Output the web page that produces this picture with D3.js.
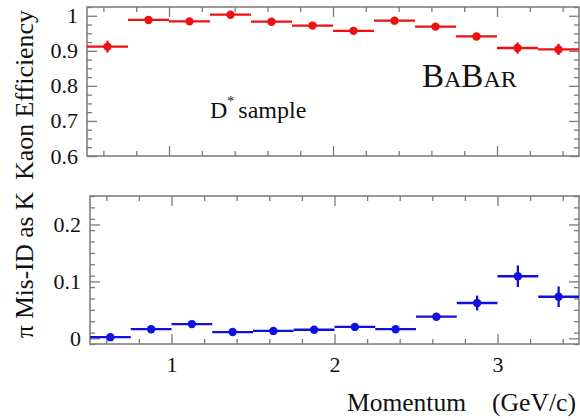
<!DOCTYPE html>
<html>
<head>
<meta charset="utf-8">
<script src="https://cdn.jsdelivr.net/npm/d3@7"></script>
<style>
  html, body { margin: 0; padding: 0; background: #fff; }
  svg { display: block; }
</style>
</head>
<body>
<svg id="chart" width="580" height="420"></svg>
<script>
// ---- data (momentum bins in GeV/c) ----
const binLow  = [0.50, 0.75, 1.00, 1.25, 1.50, 1.75, 2.00, 2.25, 2.50, 2.75, 3.00, 3.25];
const binHigh = [0.75, 1.00, 1.25, 1.50, 1.75, 2.00, 2.25, 2.50, 2.75, 3.00, 3.25, 3.50];
const kaonEff = [0.912, 0.988, 0.984, 1.003, 0.983, 0.972, 0.957, 0.986, 0.969, 0.941, 0.908, 0.904];
const kaonErr = [0.017, 0.005, 0.005, 0.005, 0.005, 0.005, 0.005, 0.005, 0.005, 0.005, 0.016, 0.016];
const pionMisID = [0.002, 0.016, 0.025, 0.011, 0.013, 0.015, 0.020, 0.016, 0.038, 0.062, 0.109, 0.073];
const pionErr   = [0.003, 0.003, 0.003, 0.003, 0.003, 0.003, 0.003, 0.003, 0.005, 0.013, 0.019, 0.018];
const momentumTicks = [1, 2, 3];
const momentumTickLabels = ["1", "2", "3"];
const kaonTicks = [0.6, 0.7, 0.8, 0.9, 1.0];
const kaonTickLabels = ["0.6", "0.7", "0.8", "0.9", "1"];
const misTicks = [0, 0.1, 0.2];
const misTickLabels = ["0", "0.1", "0.2"];

const svg = d3.select("#chart");
const frameColor = "#7a7a7a";
const FAM = "'Liberation Serif','Times New Roman',Tinos,serif";

function panel(cfg) {
  const x = d3.scaleLinear().domain([0.5, 3.5]).range([cfg.left, cfg.right]);
  const y = d3.scaleLinear().domain(cfg.yDomain).range([cfg.bottom, cfg.top]);
  const g = svg.append("g");
  const xMinor = d3.range(0.6, 3.45, 0.2).map(v => +v.toFixed(2)).filter(v => Math.abs(v - Math.round(v)) > 1e-6);
  const yMinor = d3.range(cfg.yDomain[0], cfg.yDomain[1] + 1e-9, cfg.minorStep)
      .map(v => +v.toFixed(4))
      .filter(v => !cfg.ticks.some(t => Math.abs(t - v) < 1e-6) && v >= cfg.yDomain[0] - 1e-9 && v <= cfg.yDomain[1]);

  function addAxis(axis, transform, labels) {
    const a = g.append("g").attr("transform", transform).call(axis);
    a.select(".domain").remove();
    a.selectAll(".tick line").attr("stroke", frameColor).attr("stroke-width", 1.3);
    if (!labels) a.selectAll(".tick text").remove();
    else a.selectAll(".tick text").attr("style", `font-family:${FAM};font-size:22px;fill:#111`);
    return a;
  }
  const lbl = (ticks, labels) => d => labels[ticks.findIndex(t => Math.abs(t - d) < 1e-9)];

  addAxis(d3.axisLeft(y).tickValues(cfg.ticks).tickSize(-10).tickPadding(9).tickFormat(lbl(cfg.ticks, cfg.tickLabels)),
          `translate(${cfg.left},0)`, true);
  addAxis(d3.axisLeft(y).tickValues(yMinor).tickSize(-5).tickFormat(""), `translate(${cfg.left},0)`, false);
  addAxis(d3.axisRight(y).tickValues(cfg.ticks).tickSize(-10).tickFormat(""), `translate(${cfg.right},0)`, false);
  addAxis(d3.axisRight(y).tickValues(yMinor).tickSize(-5).tickFormat(""), `translate(${cfg.right},0)`, false);
  addAxis(d3.axisBottom(x).tickValues(momentumTicks).tickSize(-10).tickPadding(12)
          .tickFormat(lbl(momentumTicks, momentumTickLabels)), `translate(0,${cfg.bottom})`, cfg.xLabels);
  addAxis(d3.axisBottom(x).tickValues(xMinor).tickSize(-5).tickFormat(""), `translate(0,${cfg.bottom})`, false);
  addAxis(d3.axisTop(x).tickValues(momentumTicks).tickSize(-10).tickFormat(""), `translate(0,${cfg.top})`, false);
  addAxis(d3.axisTop(x).tickValues(xMinor).tickSize(-5).tickFormat(""), `translate(0,${cfg.top})`, false);

  g.append("rect").attr("x", cfg.left).attr("y", cfg.top)
    .attr("width", cfg.right - cfg.left).attr("height", cfg.bottom - cfg.top)
    .attr("fill", "none").attr("stroke", frameColor).attr("stroke-width", 1.5);

  const data = binLow.map((lo, i) => ({ lo, hi: binHigh[i], v: cfg.values[i], e: cfg.errors[i] }));
  const m = g.append("g");
  m.selectAll("line.h").data(data).join("line").attr("class", "h")
    .attr("x1", d => x(d.lo)).attr("x2", d => x(d.hi))
    .attr("y1", d => y(d.v)).attr("y2", d => y(d.v))
    .attr("stroke", cfg.color).attr("stroke-width", 2.3);
  m.selectAll("line.v").data(data).join("line").attr("class", "v")
    .attr("x1", d => x((d.lo + d.hi) / 2)).attr("x2", d => x((d.lo + d.hi) / 2))
    .attr("y1", d => y(d.v - d.e)).attr("y2", d => y(d.v + d.e))
    .attr("stroke", cfg.color).attr("stroke-width", 2.3);
  m.selectAll("circle").data(data).join("circle")
    .attr("cx", d => x((d.lo + d.hi) / 2)).attr("cy", d => y(d.v))
    .attr("r", 4.2).attr("fill", cfg.color);
}

panel({ left: 87, right: 579, top: 7, bottom: 156, yDomain: [0.6, 1.025], ticks: kaonTicks, tickLabels: kaonTickLabels,
        minorStep: 0.025, values: kaonEff, errors: kaonErr, color: "#ee1111", xLabels: false });
panel({ left: 90, right: 579, top: 196, bottom: 344, yDomain: [-0.01, 0.25], ticks: misTicks, tickLabels: misTickLabels,
        minorStep: 0.02, values: pionMisID, errors: pionErr, color: "#1010e0", xLabels: true });

function t(sel, size) { return sel.attr("style", `font-family:${FAM};font-size:${size}px;fill:#111`); }

t(svg.append("text").attr("transform", "translate(33,95) rotate(-90)").attr("text-anchor", "middle")
  .attr("textLength", 170).attr("lengthAdjust", "spacingAndGlyphs"), 25).text("Kaon Efficiency");
t(svg.append("text").attr("transform", "translate(33,265) rotate(-90)").attr("text-anchor", "middle")
  .attr("textLength", 146).attr("lengthAdjust", "spacingAndGlyphs"), 25).text("π Mis-ID as K");
t(svg.append("text").attr("x", 347).attr("y", 411), 25.5).text("Momentum");
t(svg.append("text").attr("x", 492).attr("y", 411).attr("textLength", 84).attr("lengthAdjust", "spacingAndGlyphs"), 25.5).text("(GeV/c)");

const ds = t(svg.append("text").attr("x", 210).attr("y", 118), 24);
ds.append("tspan").text("D");
ds.append("tspan").attr("dy", -12).attr("style", "font-size:14px").text("*");
ds.append("tspan").attr("dy", 12).attr("dx", 4).text("sample");

const bb = t(svg.append("text").attr("x", 422).attr("y", 87), 33);
bb.append("tspan").text("B");
bb.append("tspan").attr("style", "font-size:24px").text("A");
bb.append("tspan").text("B");
bb.append("tspan").attr("style", "font-size:24px").text("AR");
</script>
</body>
</html>
